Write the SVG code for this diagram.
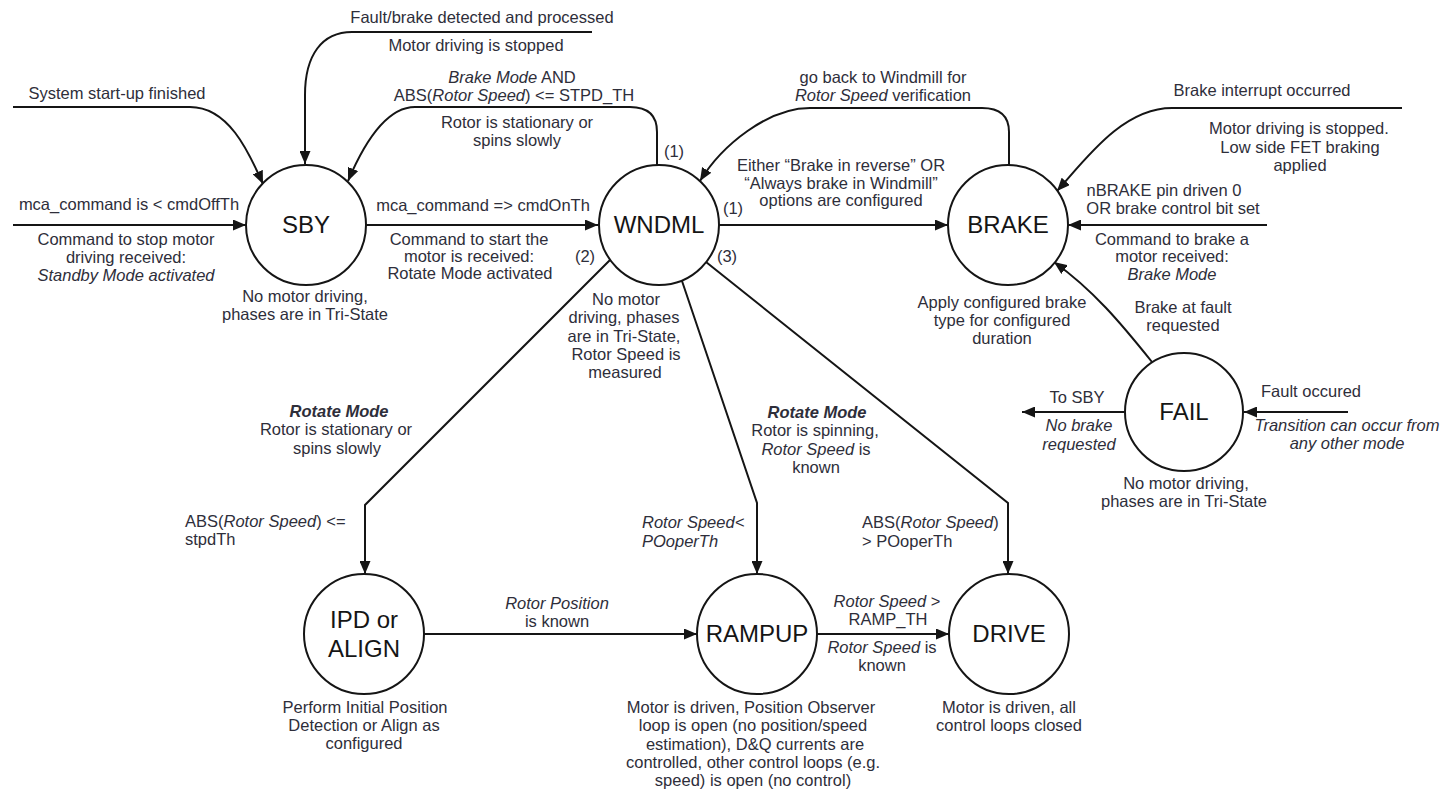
<svg xmlns="http://www.w3.org/2000/svg" width="1454" height="791" viewBox="0 0 1454 791">
<style>
.t{font-family:"Liberation Sans",Arial,sans-serif;font-size:16.5px;fill:#2e2e3a;text-anchor:middle}
.s{text-anchor:start}
.i{font-style:italic}
.b{font-weight:bold}
.n{font-family:"Liberation Sans",Arial,sans-serif;font-size:24px;fill:#151515;text-anchor:middle}
.c{fill:#fff;stroke:#151515;stroke-width:2}
.e{fill:none;stroke:#151515;stroke-width:2;marker-end:url(#ah)}
.p{fill:none;stroke:#151515;stroke-width:2}
</style>
<defs>
<marker id="ah" markerUnits="userSpaceOnUse" markerWidth="13" markerHeight="11" refX="13" refY="5.5" orient="auto">
<path d="M0,0 L13,5.5 L0,11 z" fill="#151515"/>
</marker>
</defs>
<rect width="1454" height="791" fill="#fff"/>

<g id="connectors">
<path class="e" d="M13,107 L190,107 C228,107 248,150 263,184"/>
<path class="e" d="M592,32 L352,32 C322,32 305,55 305,95 L305,164"/>
<path class="e" d="M13,225 L246,225"/>
<path class="e" d="M366,225 L598,225"/>
<path class="e" d="M657,165 L657,132 C657,116 648,107 630,107 L415,107 C385,107 362,148 348,181"/>
<path class="e" d="M719,225 L948,225"/>
<path class="e" d="M1009,165 L1009,132 C1009,116 1000,108 982,108 L810,108 C768,108 722,145 700,181"/>
<path class="e" d="M1402,108 L1172,108 C1122,108 1085,160 1057,191"/>
<path class="e" d="M1267,225 L1068,225"/>
<path class="e" d="M1152,362 C1120,322 1093,290 1054,262"/>
<path class="e" d="M1124,412 L1022,412"/>
<path class="e" d="M1348,412 L1244,412"/>
<path class="e" d="M610,260 L365,505 L365,574"/>
<path class="e" d="M682,281 L757,503 L757,574"/>
<path class="e" d="M706,262 L1008,503 L1008,574"/>
<path class="e" d="M424,634 L697,634"/>
<path class="e" d="M817,634 L949,634"/>
</g>

<g id="labels">
<text class="t" x="117" y="99">System start-up finished</text>
<text class="t" x="482" y="23">Fault/brake detected and processed</text>
<text class="t" x="476" y="51">Motor driving is stopped</text>
<text class="t" x="512" y="83"><tspan class="i">Brake Mode</tspan> AND</text>
<text class="t" x="514" y="101">ABS(<tspan class="i">Rotor Speed</tspan>) &lt;= STPD_TH</text>
<text class="t" x="517" y="128">Rotor is stationary or</text>
<text class="t" x="517" y="146">spins slowly</text>
<text class="t" x="674" y="157">(1)</text>
<text class="t" x="129" y="210">mca_command is &lt; cmdOffTh</text>
<text class="t" x="126" y="245">Command to stop motor</text>
<text class="t" x="126" y="263">driving received:</text>
<text class="t i" x="126" y="281">Standby Mode activated</text>
<text class="t" x="483" y="211">mca_command =&gt; cmdOnTh</text>
<text class="t" x="469" y="245">Command to start the</text>
<text class="t" x="469" y="262">motor is received:</text>
<text class="t" x="470" y="279">Rotate Mode activated</text>
<text class="t" x="585" y="262">(2)</text>
<text class="t" x="733" y="214">(1)</text>
<text class="t" x="727" y="262">(3)</text>
<text class="t" x="841" y="171">Either “Brake in reverse” OR</text>
<text class="t" x="841" y="189">“Always brake in Windmill”</text>
<text class="t" x="841" y="206">options are configured</text>
<text class="t" x="883" y="83">go back to Windmill for</text>
<text class="t" x="883" y="101"><tspan class="i">Rotor Speed</tspan> verification</text>
<text class="t" x="1262" y="96">Brake interrupt occurred</text>
<text class="t" x="1299" y="134">Motor driving is stopped.</text>
<text class="t" x="1300" y="153">Low side FET braking</text>
<text class="t" x="1300" y="171">applied</text>
<text class="t" x="1164" y="196">nBRAKE pin driven 0</text>
<text class="t" x="1173" y="214">OR brake control bit set</text>
<text class="t" x="1172" y="245">Command to brake a</text>
<text class="t" x="1172" y="262">motor received:</text>
<text class="t i" x="1172" y="280">Brake Mode</text>
<text class="t" x="1002" y="308">Apply configured brake</text>
<text class="t" x="1002" y="326">type for configured</text>
<text class="t" x="1002" y="344">duration</text>
<text class="t" x="1183" y="313">Brake at fault</text>
<text class="t" x="1183" y="331">requested</text>
<text class="t" x="1077" y="403">To SBY</text>
<text class="t i" x="1079" y="431">No brake</text>
<text class="t i" x="1079" y="450">requested</text>
<text class="t" x="1311" y="397">Fault occured</text>
<text class="t i" x="1347" y="431">Transition can occur from</text>
<text class="t i" x="1347" y="449">any other mode</text>
<text class="t b i" x="339" y="417">Rotate Mode</text>
<text class="t" x="336" y="435">Rotor is stationary or</text>
<text class="t" x="337" y="454">spins slowly</text>
<text class="t s" x="185" y="527">ABS(<tspan class="i">Rotor Speed</tspan>) &lt;=</text>
<text class="t s" x="185" y="545">stpdTh</text>
<text class="t b i" x="817" y="418">Rotate Mode</text>
<text class="t" x="815" y="436">Rotor is spinning,</text>
<text class="t" x="816" y="455"><tspan class="i">Rotor Speed</tspan> is</text>
<text class="t" x="816" y="473">known</text>
<text class="t s i" x="642" y="528">Rotor Speed&lt;</text>
<text class="t s i" x="642" y="547">POoperTh</text>
<text class="t s" x="862" y="528">ABS(<tspan class="i">Rotor Speed</tspan>)</text>
<text class="t s" x="862" y="547">&gt; POoperTh</text>
<text class="t i" x="557" y="609">Rotor Position</text>
<text class="t" x="557" y="627">is known</text>
<text class="t" x="887" y="607"><tspan class="i">Rotor Speed</tspan> &gt;</text>
<text class="t" x="888" y="625">RAMP_TH</text>
<text class="t" x="882" y="653"><tspan class="i">Rotor Speed</tspan> is</text>
<text class="t" x="882" y="671">known</text>
</g>

<g id="SBY">
<circle class="c" cx="306" cy="225" r="60"/>
<text class="n" x="306" y="233">SBY</text>
<text class="t" x="305" y="302">No motor driving,</text>
<text class="t" x="305" y="320">phases are in Tri-State</text>
</g>
<g id="WNDML">
<circle class="c" cx="659" cy="225" r="60"/>
<text class="n" x="659" y="233">WNDML</text>
<text class="t" x="626" y="305">No motor</text>
<text class="t" x="624" y="323">driving, phases</text>
<text class="t" x="624" y="342">are in Tri-State,</text>
<text class="t" x="626" y="360">Rotor Speed is</text>
<text class="t" x="625" y="378">measured</text>
</g>
<g id="BRAKE">
<circle class="c" cx="1008" cy="225" r="60"/>
<text class="n" x="1008" y="233">BRAKE</text>
</g>
<g id="FAIL">
<circle class="c" cx="1184" cy="412" r="59"/>
<text class="n" x="1184" y="420">FAIL</text>
<text class="t" x="1186" y="489">No motor driving,</text>
<text class="t" x="1184" y="507">phases are in Tri-State</text>
</g>
<g id="IPD">
<circle class="c" cx="364" cy="634" r="60"/>
<text class="n" x="364" y="628">IPD or</text>
<text class="n" x="364" y="657">ALIGN</text>
<text class="t" x="365" y="713">Perform Initial Position</text>
<text class="t" x="364" y="731">Detection or Align as</text>
<text class="t" x="364" y="749">configured</text>
</g>
<g id="RAMPUP">
<circle class="c" cx="757" cy="634" r="60"/>
<text class="n" x="757" y="642">RAMPUP</text>
<text class="t" x="751" y="713">Motor is driven, Position Observer</text>
<text class="t" x="753" y="731">loop is open (no position/speed</text>
<text class="t" x="755" y="750">estimation), D&amp;Q currents are</text>
<text class="t" x="753" y="768">controlled, other control loops (e.g.</text>
<text class="t" x="753" y="786">speed) is open (no control)</text>
</g>
<g id="DRIVE">
<circle class="c" cx="1009" cy="634" r="60"/>
<text class="n" x="1009" y="642">DRIVE</text>
<text class="t" x="1009" y="713">Motor is driven, all</text>
<text class="t" x="1009" y="731">control loops closed</text>
</g>
</svg>
